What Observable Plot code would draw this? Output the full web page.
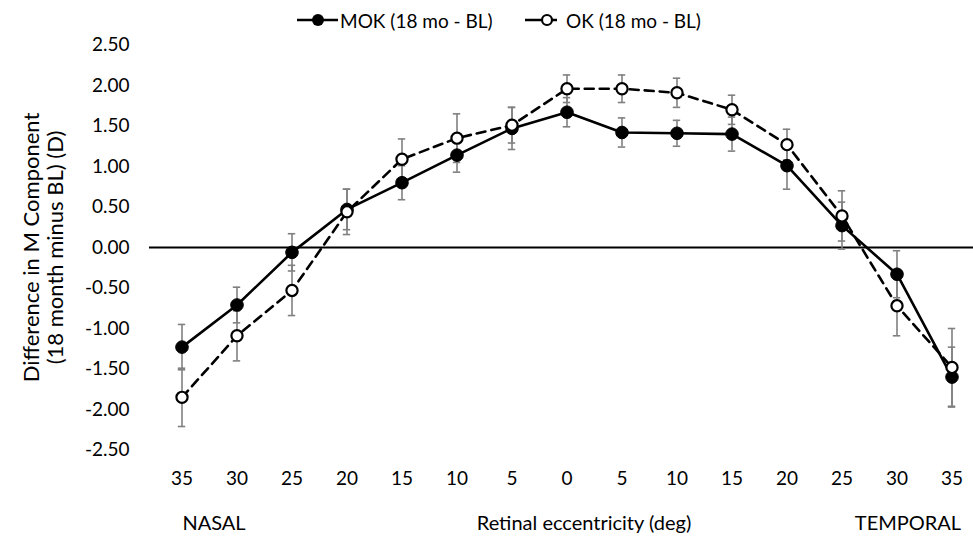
<!DOCTYPE html>
<html><head><meta charset="utf-8">
<script src="https://cdn.jsdelivr.net/npm/d3@7"></script>
<script src="https://cdn.jsdelivr.net/npm/@observablehq/plot@0.6"></script>
<style>
body{margin:0;background:#fff;}
#wrap{position:relative;width:973px;height:537px;font-family:Lato,sans-serif;color:#000;overflow:hidden;}
#wrap svg.plot{position:absolute;left:0;top:0;}
.lab{position:absolute;font-size:20px;white-space:nowrap;transform:translate(-50%,-50%);line-height:1;}
.leg{position:absolute;font-size:19px;white-space:nowrap;transform:translate(0,-50%);line-height:1;}
.sym{position:absolute;}
</style></head><body><div id="wrap"></div>
<script>
// Retinal eccentricity categories (N = nasal, T = temporal)
const eccentricity = ["N35","N30","N25","N20","N15","N10","N5","0","T5","T10","T15","T20","T25","T30","T35"];
const mokValues = [-1.23,-0.71,-0.06,0.47,0.80,1.14,1.47,1.67,1.42,1.41,1.40,1.01,0.27,-0.33,-1.60];
const mokErrors = [0.28,0.22,0.23,0.25,0.21,0.21,0.26,0.18,0.18,0.16,0.21,0.29,0.29,0.29,0.37];
const okValues  = [-1.85,-1.09,-0.53,0.44,1.09,1.35,1.51,1.96,1.96,1.91,1.70,1.27,0.39,-0.72,-1.48];
const okErrors  = [0.36,0.31,0.31,0.28,0.25,0.30,0.22,0.17,0.17,0.18,0.18,0.19,0.31,0.37,0.48];
const yTicks = [-2.5,-2,-1.5,-1,-0.5,0,0.5,1,1.5,2,2.5];
const seriesNames = ["MOK (18 mo - BL)","OK (18 mo - BL)"];
const yTitle = "Difference in M Component\n(18 month minus BL) (D)";
const bottomLabels = ["NASAL","Retinal eccentricity (deg)","TEMPORAL"];

const mok = eccentricity.map((e,i)=>({e, v:mokValues[i], err:mokErrors[i]}));
const ok  = eccentricity.map((e,i)=>({e, v:okValues[i],  err:okErrors[i]}));
const grey = "#808080";
const capInset = 23.8;

function errMarks(data){
  return [
    Plot.ruleX(data,{x:"e", y1:d=>d.v-d.err, y2:d=>d.v+d.err, stroke:grey, strokeWidth:1.6}),
    Plot.tickY(data,{x:"e", y:d=>d.v-d.err, stroke:grey, strokeWidth:1.6, insetLeft:capInset, insetRight:capInset}),
    Plot.tickY(data,{x:"e", y:d=>d.v+d.err, stroke:grey, strokeWidth:1.6, insetLeft:capInset, insetRight:capInset})
  ];
}

const chart = Plot.plot({
  width:973, height:537,
  marginLeft:149, marginRight:0, marginTop:44.5, marginBottom:87.5,
  style:{fontFamily:"Lato, sans-serif", fontSize:"19px", color:"#000", background:"transparent"},
  x:{type:"band", domain:eccentricity, range:[149.3,984.1], padding:0, tickSize:0, tickPadding:21,
     tickFormat:d=>d.replace(/[NT]/,""), label:null},
  y:{domain:[-2.5,2.5], ticks:yTicks, tickSize:0, tickPadding:20, tickFormat:d=>d.toFixed(2), label:null},
  marks:[
    Plot.ruleY([0],{stroke:"#000", strokeWidth:1.8}),
    ...errMarks(mok),
    ...errMarks(ok),
    Plot.line(mok,{x:"e", y:"v", stroke:"#000", strokeWidth:2.6}),
    Plot.dot(mok,{x:"e", y:"v", r:6.3, fill:"#000", stroke:"#000", strokeWidth:1}),
    Plot.line(ok,{x:"e", y:"v", stroke:"#000", strokeWidth:2.6, strokeDasharray:"9,6"}),
    Plot.dot(ok,{x:"e", y:"v", r:5.6, fill:"#fff", stroke:"#000", strokeWidth:2.2}),
    Plot.text([yTitle],{frameAnchor:"left", dx:-106, rotate:-90, text:d=>d, fontSize:22, lineHeight:1.06, textAnchor:"middle"})
  ]
});
chart.classList.add("plot");
const wrap = document.getElementById("wrap");
wrap.appendChild(chart);

// Legend
function addSym(left, dashed){
  const s = document.createElementNS("http://www.w3.org/2000/svg","svg");
  s.setAttribute("class","sym");
  s.setAttribute("width","44"); s.setAttribute("height","20");
  s.style.left = left+"px"; s.style.top = "10px";
  s.innerHTML = dashed
    ? `<line x1="0" y1="10" x2="32" y2="10" stroke="#000" stroke-width="2.6" stroke-dasharray="16,6"/><circle cx="22" cy="10" r="5" fill="#fff" stroke="#000" stroke-width="2.2"/>`
    : `<line x1="0" y1="10" x2="41" y2="10" stroke="#000" stroke-width="2.6"/><circle cx="21" cy="10" r="6" fill="#000"/>`;
  wrap.appendChild(s);
}
function addText(cls, txt, x, y){
  const d = document.createElement("div");
  d.className = cls; d.textContent = txt;
  d.style.left = x+"px"; d.style.top = y+"px";
  wrap.appendChild(d);
}
addSym(297,false);
addText("leg", seriesNames[0], 340, 20);
addSym(525,true);
addText("leg", seriesNames[1], 566, 20);

// Bottom labels
addText("lab",bottomLabels[0],214,522);
addText("lab",bottomLabels[1],584,522);
addText("lab",bottomLabels[2],908,522);
</script></body></html>
